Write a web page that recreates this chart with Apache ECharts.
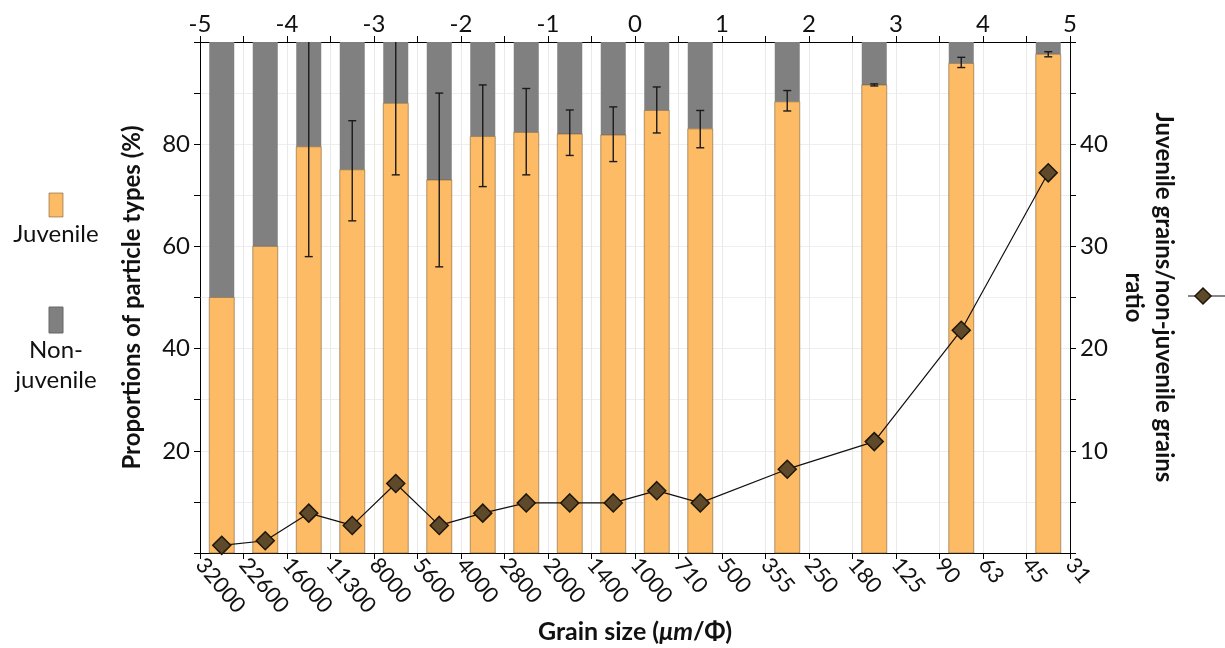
<!DOCTYPE html>
<html>
<head>
<meta charset="utf-8">
<script src="https://cdn.jsdelivr.net/npm/echarts@6/dist/echarts.min.js"></script>
<style>
html,body{margin:0;padding:0;background:#fff;}
#chart{width:1225px;height:648px;}
</style>
</head>
<body>
<div id="chart"></div>
<script>
// ---- data ----
const phiCenters = [-4.75,-4.25,-3.75,-3.25,-2.75,-2.25,-1.75,-1.25,-0.75,-0.25,0.25,0.75,1.75,2.75,3.75,4.75];
const juvenile   = [50,60,79.5,75,88,73,81.5,82.3,82,81.8,86.6,83,88.3,91.6,95.8,97.6];
const nonJuvenile= [50,40,20.5,25,12,27,18.5,17.7,18,18.2,13.4,17,11.7,8.4,4.2,2.4];
const errLow     = [null,null,58,65,74,56,71.7,74,77.8,76.6,82.2,79.3,86.5,91.4,95,97.1];
const errHigh    = [null,null,100,84.6,100,90,91.6,90.9,86.7,87.3,91.2,86.6,90.5,91.8,97,98.1];
const ratio      = [0.75,1.2,3.9,2.7,6.8,2.7,3.9,4.9,4.9,4.9,6.1,4.9,8.2,10.9,21.8,37.2];
const sizeLabels = ['32000','22600','16000','11300','8000','5600','4000','2800','2000','1400','1000','710','500','355','250','180','125','90','63','45','31'];
const phiLabels  = ['-5','-4','-3','-2','-1','0','1','2','3','4','5'];

const FONT = 'Lato';
const chart = echarts.init(document.getElementById('chart'));

// bars drawn through the axes: juvenile from 0, non-juvenile stacked on top of it
const barData = phiCenters.map((p,i)=>[p, juvenile[i], nonJuvenile[i]]);
const errData = phiCenters.map((p,i)=>[p, errLow[i], errHigh[i]]).filter(d=>d[1]!==null);
const ratioData = phiCenters.map((p,i)=>[p, ratio[i]]);
const BAR_W = 25;

const option = {
  animation:false,
  backgroundColor:'#fff',
  textStyle:{fontFamily:FONT},
  grid:{left:200,right:155,top:42,bottom:95,containLabel:false,outerBoundsMode:'none'},
  xAxis:[
    {type:'value',position:'bottom',min:-5,max:5,interval:0.5,
     axisLine:{onZero:false,lineStyle:{color:'#000',width:1}},
     axisTick:{show:true,length:6,lineStyle:{color:'#000'}},
     axisLabel:{rotate:-50,fontSize:22,color:'#111',fontFamily:FONT,margin:8,
       formatter:v=>{const i=Math.round((v+5)*2);return sizeLabels[i]||'';}},
     splitLine:{show:true,lineStyle:{color:'#e9e9e9',width:1}},
     name:'{b|Grain size (}{i|μm}{b|/Φ)}',nameLocation:'middle',nameGap:66,nameMoveOverlap:false,
     nameTextStyle:{rich:{b:{fontSize:25,fontWeight:'bold',fontFamily:FONT,color:'#111'},
                          i:{fontSize:25,fontWeight:'bold',fontStyle:'italic',fontFamily:FONT,color:'#111'}}}
    },
    {type:'value',position:'top',min:-5,max:5,interval:0.5,
     axisLine:{onZero:false,lineStyle:{color:'#000',width:1}},
     axisTick:{show:true,length:6,lineStyle:{color:'#000'}},
     axisLabel:{fontSize:24,color:'#111',fontFamily:FONT,margin:6,
       formatter:v=>{if(Math.abs(v-Math.round(v))>1e-6)return '';return phiLabels[Math.round(v)+5];}},
     splitLine:{show:false}
    }
  ],
  yAxis:[
    {type:'value',position:'left',min:0,max:100,interval:10,
     axisLine:{show:true,onZero:false,lineStyle:{color:'#000',width:1}},
     axisTick:{show:true,length:6,lineStyle:{color:'#000'}},
     axisLabel:{fontSize:24,color:'#111',fontFamily:FONT,margin:10,
       formatter:v=>(v>0&&v<100&&v%20===0)?String(v):''},
     splitLine:{show:true,lineStyle:{color:'#eeeeee',width:1}},
     name:'Proportions of particle types (%)',nameLocation:'middle',nameGap:56,
     nameTextStyle:{fontSize:24,fontWeight:'bold',fontFamily:FONT,color:'#111'}
    },
    {type:'value',position:'right',min:0,max:50,interval:5,
     axisLine:{show:true,onZero:false,lineStyle:{color:'#000',width:1}},
     axisTick:{show:true,length:6,lineStyle:{color:'#000'}},
     axisLabel:{fontSize:24,color:'#111',fontFamily:FONT,margin:10,
       formatter:v=>(v>0&&v<50&&v%10===0)?String(v):''},
     splitLine:{show:false},
     name:'Juvenile grains/non-juvenile grains\nratio',nameLocation:'middle',nameGap:48,nameRotate:-90,
     nameTextStyle:{fontSize:24,fontWeight:'bold',fontFamily:FONT,color:'#111',lineHeight:30,align:'center'}
    }
  ],
  series:[
    {type:'custom',name:'Particle types',xAxisIndex:0,yAxisIndex:0,data:barData,z:2,
     encode:{x:0,y:[1,2]},
     renderItem:function(params,api){
       const x=api.value(0),j=api.value(1),n=api.value(2);
       const p0=api.coord([x,0]),p1=api.coord([x,j]),p2=api.coord([x,j+n]);
       const l=p0[0]-BAR_W/2;
       return {type:'group',children:[
         {type:'rect',shape:{x:l,y:p2[1],width:BAR_W,height:p1[1]-p2[1]},style:{fill:'#808080'}},
         {type:'rect',shape:{x:l,y:p1[1],width:BAR_W,height:p0[1]-p1[1]},
          style:{fill:'#FDBB66',stroke:'rgba(110,85,50,0.55)',lineWidth:1}}
       ]};
     }},
    {type:'custom',name:'err',xAxisIndex:0,yAxisIndex:0,data:errData,z:5,
     encode:{x:0,y:[1,2]},
     renderItem:function(params,api){
       const x=api.value(0),lo=api.value(1),hi=api.value(2);
       const a=api.coord([x,lo]),b=api.coord([x,hi]);
       const w=4;
       const st={stroke:'#1a1a1a',lineWidth:1.4};
       const ch=[{type:'line',shape:{x1:a[0],y1:a[1],x2:b[0],y2:b[1]},style:st},
                 {type:'line',shape:{x1:a[0]-w,y1:a[1],x2:a[0]+w,y2:a[1]},style:st}];
       if(hi<100) ch.push({type:'line',shape:{x1:b[0]-w,y1:b[1],x2:b[0]+w,y2:b[1]},style:st});
       return {type:'group',children:ch};
     }},
    {type:'line',name:'ratio',xAxisIndex:0,yAxisIndex:1,data:ratioData,z:6,
     symbol:'diamond',symbolSize:[18,18],
     lineStyle:{color:'#111',width:1.2},
     itemStyle:{color:'#5E4A2B',borderColor:'#1e1608',borderWidth:1.5}}
  ],
  graphic:[
    {type:'rect',shape:{x:49,y:193,width:14,height:24},style:{fill:'#FDBB66',stroke:'rgba(110,85,50,0.55)',lineWidth:1}},
    {type:'text',style:{text:'Juvenile',x:56,y:234,align:'center',verticalAlign:'middle',font:'24px '+FONT,fill:'#111'}},
    {type:'rect',shape:{x:49,y:307,width:14,height:26},style:{fill:'#808080',stroke:'#666',lineWidth:1}},
    {type:'text',style:{text:'Non-\njuvenile',x:56,y:365,align:'center',verticalAlign:'middle',font:'24px '+FONT,fill:'#111',lineHeight:30}},
    {type:'line',shape:{x1:1188,y1:296,x2:1225,y2:296},style:{stroke:'#111',lineWidth:1.2}},
    {type:'polygon',shape:{points:[[1203,288],[1211,296],[1203,304],[1195,296]]},style:{fill:'#5E4A2B',stroke:'#1e1608',lineWidth:1.5}}
  ]
};
chart.setOption(option);
</script>
</body>
</html>
